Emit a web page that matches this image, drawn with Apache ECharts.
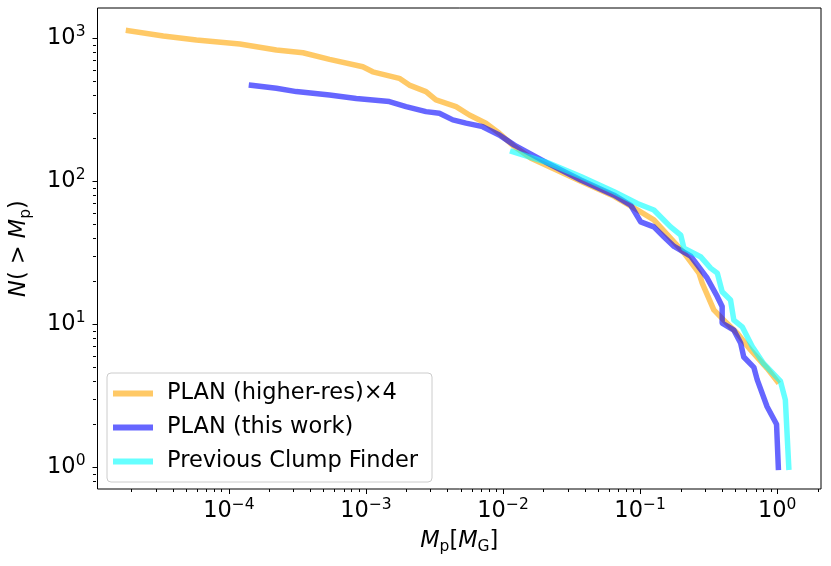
<!DOCTYPE html>
<html><head><meta charset="utf-8">
<script src="https://cdn.jsdelivr.net/npm/echarts@6/dist/echarts.min.js"></script>
<style>html,body{margin:0;padding:0;background:#fff}#c{width:831px;height:566px}</style>
</head><body><div id="c"></div>
<script>
// ---- data ----
const seriesNames = ['PLAN (higher-res)\u00d74', 'PLAN (this work)', 'Previous Clump Finder'];
const orangeMass = [1.85e-5,3.32e-5,5.79e-5,1.20e-4,2.22e-4,3.47e-4,5.42e-4,9.48e-4,1.12e-3,1.75e-3,2.07e-3,2.74e-3,3.24e-3,4.54e-3,5.68e-3,7.50e-3,9.38e-3,0.01175,0.0160,0.0369,0.0646,0.0955,0.126,0.209,0.269,0.284,0.345,0.408,0.512,0.640,0.845,1.0];
const orangeN    = [1130,1038,973,912,828,793,713,632,583,525,471,424,371,333,291,255,217,179,145,100,78.5,63,53.8,31.6,22.8,19.4,12.6,10.7,8.65,6.61,4.92,4.0];
const blueMass = [1.46e-4,2.22e-4,3.10e-4,5.42e-4,8.49e-4,1.48e-3,1.96e-3,2.74e-3,3.43e-3,4.30e-3,5.37e-3,7.10e-3,9.38e-3,0.0121,0.0211,0.0369,0.0646,0.0855,0.101,0.126,0.149,0.177,0.234,0.309,0.366,0.397,0.397,0.483,0.541,0.571,0.676,0.715,0.845,0.99,1.02];
const blueN    = [469,447,424,401,380,361,333,307,299,269,255,241,211,179,134,102,80,68,52,48,41,35,30,21,15.6,13.3,10.2,9.1,7.4,5.9,5.0,4.1,2.65,2.0,1];
const cyanMass = [0.01175,0.0211,0.0369,0.0646,0.0955,0.126,0.167,0.198,0.209,0.276,0.327,0.366,0.397,0.457,0.483,0.556,0.658,0.798,1.057,1.148,1.216];
const cyanN    = [161,135,108,84.5,70,63,48,42,34,29.7,24.7,22.8,16.9,14.8,10.7,9.6,7.0,5.3,4.0,2.96,1];
const xMajorExp = [-4, -3, -2, -1, 0];
const yMajorExp = [0, 1, 2, 3];
const xLogRange = [-4.959, 0.32];
const yLogRange = [-0.152, 3.212];

// ---- helpers ----
const FONT = 'DejaVu Sans';
function toLogPairs(xs, ys) { return xs.map((m, i) => [Math.log10(m), Math.log10(ys[i])]); }
function minorTicks(range) {
  const out = [];
  for (let n = Math.floor(range[0]) ; n <= Math.ceil(range[1]); n++) {
    for (let k = 2; k <= 9; k++) {
      const v = n + Math.log10(k);
      if (v >= range[0] && v <= range[1]) out.push(v);
    }
  }
  return out;
}
function powLabel(v) {
  const e = Math.round(v);
  const s = e < 0 ? '\u2212' + (-e) : String(e);
  return '{b|10}{s|' + s + '}';
}
const tickRich = {
  b: {fontSize: 22.5, fontFamily: FONT, color: '#000', lineHeight: 28},
  s: {fontSize: 15.5, fontFamily: FONT, color: '#000', lineHeight: 16, verticalAlign: 'top'}
};
const nameRich = {
  i: {fontSize: 22.5, fontFamily: FONT, fontStyle: 'italic', color: '#000', lineHeight: 28},
  n: {fontSize: 22.5, fontFamily: FONT, color: '#000', lineHeight: 28},
  sub: {fontSize: 15.5, fontFamily: FONT, color: '#000', lineHeight: 16, verticalAlign: 'bottom'}
};
const colors = ['rgba(255,165,0,0.6)', 'rgba(0,0,255,0.6)', 'rgba(0,255,255,0.6)'];
const datasets = [toLogPairs(orangeMass, orangeN), toLogPairs(blueMass, blueN), toLogPairs(cyanMass, cyanN)];

const gridBox = {left: 96, right: 10, top: 8, bottom: 77};
const chart = echarts.init(document.getElementById('c'), null, {renderer: 'canvas'});
chart.setOption({
  animation: false,
  backgroundColor: '#fff',
  grid: [
    Object.assign({show: true, borderColor: '#000', borderWidth: 1, backgroundColor: 'transparent'}, gridBox),
    Object.assign({show: false}, gridBox)
  ],
  xAxis: [
    {
      type: 'value', gridIndex: 0, min: xLogRange[0], max: xLogRange[1], position: 'bottom',
      axisLine: {show: false, onZero: false}, splitLine: {show: false},
      axisTick: {show: true, length: 5, lineStyle: {color: '#000', width: 1}, customValues: xMajorExp},
      axisLabel: {show: true, margin: 8, customValues: xMajorExp, formatter: powLabel, rich: tickRich},
      name: '{i|M}{sub|p}{n|[}{i|M}{sub|G}{n|]}', nameLocation: 'middle', nameGap: 38,
      nameTextStyle: {rich: nameRich}
    },
    {
      type: 'value', gridIndex: 1, min: xLogRange[0], max: xLogRange[1], position: 'bottom',
      axisLine: {show: false, onZero: false}, splitLine: {show: false}, axisLabel: {show: false},
      axisTick: {show: true, length: 3, lineStyle: {color: '#000', width: 1}, customValues: minorTicks(xLogRange)}
    }
  ],
  yAxis: [
    {
      type: 'value', gridIndex: 0, min: yLogRange[0], max: yLogRange[1], position: 'left',
      axisLine: {show: false, onZero: false}, splitLine: {show: false},
      axisTick: {show: true, length: 5, lineStyle: {color: '#000', width: 1}, customValues: yMajorExp},
      axisLabel: {show: true, margin: 12, customValues: yMajorExp, formatter: powLabel, rich: tickRich},
      name: '{i|N}{n|( > }{i|M}{sub|p}{n|)}', nameLocation: 'middle', nameGap: 64, nameRotate: 90,
      nameTextStyle: {rich: nameRich}
    },
    {
      type: 'value', gridIndex: 1, min: yLogRange[0], max: yLogRange[1], position: 'left',
      axisLine: {show: false, onZero: false}, splitLine: {show: false}, axisLabel: {show: false},
      axisTick: {show: true, length: 3, lineStyle: {color: '#000', width: 1}, customValues: minorTicks(yLogRange)}
    }
  ],
  legend: {
    orient: 'vertical', left: 107, top: 373,
    itemWidth: 40, itemHeight: 6, itemGap: 11, icon: 'rect',
    itemStyle: {borderWidth: 0},
    padding: [9, 14, 9, 6],
    backgroundColor: 'rgba(255,255,255,0.8)', borderColor: '#cccccc', borderWidth: 1, borderRadius: 4,
    textStyle: {fontSize: 22.5, fontFamily: FONT, color: '#000', lineHeight: 23, padding: [0, 0, 0, 9]},
    data: seriesNames
  },
  series: seriesNames.map((name, i) => ({
    type: 'line', name: name, xAxisIndex: 0, yAxisIndex: 0,
    data: datasets[i], showSymbol: false, symbol: 'none', silent: true,
    color: colors[i], itemStyle: {color: colors[i]},
    lineStyle: {width: 5.5, color: colors[i], join: 'round', cap: 'square'}
  }))
});
</script></body></html>
